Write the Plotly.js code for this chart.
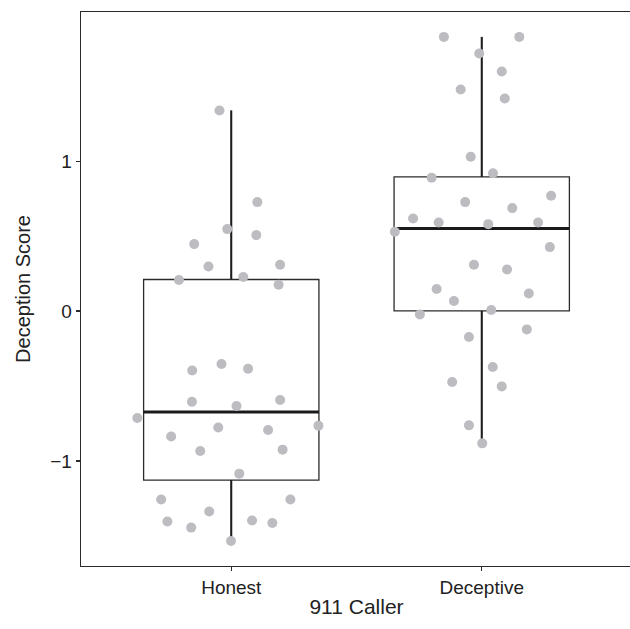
<!DOCTYPE html>
<html>
<head>
<meta charset="utf-8">
<script src="https://cdn.plot.ly/plotly-3.0.1.min.js"></script>
<style>
html, body { margin: 0; padding: 0; background: #fff; overflow: hidden; width: 630px; height: 629px; }
#chart { width: 632px; height: 629px; }
</style>
</head>
<body>
<div id="chart"></div>
<script>
// Categories
var categories = ["Honest", "Deceptive"];
var yTickVals = [-1, 0, 1];
var yTickText = ["\u22121", "0", "1"];

// Box statistics
var q1 = [-1.127, 0.002];
var median = [-0.673, 0.551];
var q3 = [0.211, 0.895];
var lowerFence = [-1.533, -0.882];
var upperFence = [1.338, 1.829];

// Jittered points: horizontal jitter offset and score
var honestJitter = [-0.047, 0.104, -0.016, 0.100, -0.148, -0.091, 0.195, -0.209, 0.048, 0.189,
  -0.156, -0.039, 0.067, -0.157, 0.021, 0.195, -0.375, -0.240, -0.052, 0.147, 0.348,
  -0.124, 0.205, 0.032, -0.280, 0.236, -0.088, -0.255, 0.083, 0.164, -0.160, -0.001];
var honestScore = [1.338, 0.727, 0.547, 0.507, 0.447, 0.298, 0.309, 0.207, 0.227, 0.176,
  -0.396, -0.353, -0.384, -0.604, -0.633, -0.593, -0.713, -0.836, -0.776, -0.793, -0.764,
  -0.933, -0.924, -1.084, -1.256, -1.256, -1.336, -1.403, -1.396, -1.413, -1.444, -1.533];

var deceptiveJitter = [-0.151, 0.150, -0.010, 0.080, -0.084, 0.092, -0.044, 0.045, -0.200, -0.066,
  0.277, 0.122, -0.274, -0.172, 0.026, 0.225, -0.347, 0.272, -0.031, 0.101, -0.180,
  0.188, -0.111, 0.038, -0.247, 0.180, -0.051, 0.044, -0.118, 0.080, -0.051, 0.002];
var deceptiveScore = [1.829, 1.829, 1.718, 1.598, 1.478, 1.418, 1.029, 0.920, 0.889, 0.727,
  0.769, 0.687, 0.618, 0.591, 0.580, 0.591, 0.529, 0.427, 0.309, 0.278, 0.147,
  0.118, 0.067, 0.007, -0.022, -0.122, -0.173, -0.373, -0.473, -0.502, -0.762, -0.882];

var boxWidth = 0.7;
var FONT = '"Liberation Sans", Arial, Helvetica, sans-serif';
var INK = '#222222';

var catIdx = categories.map(function (c, i) { return i; });

var boxTrace = {
  type: 'box',
  x: catIdx,
  q1: q1, median: median, q3: q3,
  lowerfence: lowerFence, upperfence: upperFence,
  width: boxWidth,
  whiskerwidth: 0,
  boxpoints: false,
  fillcolor: 'rgba(0,0,0,0)',
  line: { color: '#2b2b2b', width: 1.3 },
  hoverinfo: 'skip',
  showlegend: false
};

// Thicker whiskers and median, drawn from the same stats
var wx = [], wy = [], mx = [], my = [];
catIdx.forEach(function (i) {
  wx.push(i, i, null, i, i, null);
  wy.push(q3[i], upperFence[i], null, lowerFence[i], q1[i], null);
  mx.push(i - boxWidth / 2, i + boxWidth / 2, null);
  my.push(median[i], median[i], null);
});
var whiskerTrace = {
  type: 'scatter', mode: 'lines', x: wx, y: wy,
  line: { color: '#1e1e1e', width: 2 }, hoverinfo: 'skip', showlegend: false
};
var medianTrace = {
  type: 'scatter', mode: 'lines', x: mx, y: my,
  line: { color: '#1a1a1a', width: 3 }, hoverinfo: 'skip', showlegend: false
};

var px = [], py = [];
honestJitter.forEach(function (d, k) { px.push(0 + d); py.push(honestScore[k]); });
deceptiveJitter.forEach(function (d, k) { px.push(1 + d); py.push(deceptiveScore[k]); });
var pointTrace = {
  type: 'scatter', mode: 'markers', x: px, y: py,
  marker: { color: '#bdbdc1', size: 10, line: { width: 0 } },
  hoverinfo: 'skip', showlegend: false
};

var layout = {
  width: 632, height: 629,
  margin: { l: 81, r: 0, t: 12, b: 63, pad: 0 },
  paper_bgcolor: '#ffffff', plot_bgcolor: '#ffffff',
  font: { family: FONT, color: INK, size: 20 },
  showlegend: false,
  xaxis: {
    range: [-0.6, 1.6],
    tickmode: 'array', tickvals: catIdx, ticktext: categories,
    showgrid: false, zeroline: false,
    showline: true, mirror: true, linecolor: '#2b2b2b', linewidth: 1.3,
    ticks: 'outside', ticklen: 4, tickwidth: 1.3, tickcolor: '#2b2b2b',
    tickfont: { family: FONT, size: 19, color: INK },
    title: { text: '911 Caller', font: { family: FONT, size: 21, color: INK }, standoff: 2 }
  },
  yaxis: {
    range: [-1.70, 1.995],
    tickmode: 'array', tickvals: yTickVals, ticktext: yTickText,
    showgrid: false, zeroline: false,
    showline: true, mirror: true, linecolor: '#2b2b2b', linewidth: 1.3,
    ticks: 'outside', ticklen: 4, tickwidth: 1.3, tickcolor: '#2b2b2b',
    tickfont: { family: FONT, size: 19, color: INK },
    title: { text: 'Deception Score', font: { family: FONT, size: 20, color: INK }, standoff: 14 }
  }
};

Plotly.newPlot('chart', [boxTrace, whiskerTrace, medianTrace, pointTrace], layout, { staticPlot: true, displayModeBar: false });
</script>
</body>
</html>
